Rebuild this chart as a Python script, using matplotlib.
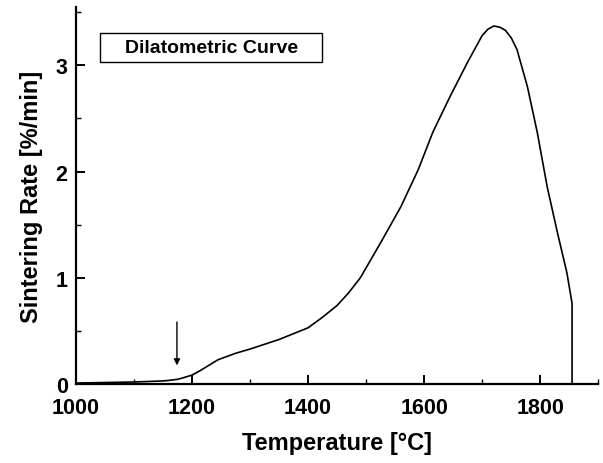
import matplotlib
matplotlib.use("Agg")
import matplotlib.pyplot as plt
from matplotlib.patches import Rectangle
from matplotlib.ticker import MultipleLocator

# sintering rate curve
temperature = [1000, 1050, 1100, 1150, 1160, 1175, 1185, 1200, 1215, 1230,
               1245, 1260, 1275, 1300, 1350, 1400, 1425, 1450, 1470, 1490,
               1525, 1560, 1590, 1615, 1645, 1675, 1700, 1710, 1720, 1730,
               1740, 1750, 1760, 1778, 1795, 1812, 1830, 1846, 1855, 1855]
rate = [0.01, 0.015, 0.02, 0.03, 0.035, 0.045, 0.06, 0.085, 0.13, 0.18,
        0.23, 0.26, 0.29, 0.33, 0.42, 0.53, 0.63, 0.74, 0.86, 1.0,
        1.33, 1.67, 2.02, 2.37, 2.71, 3.03, 3.28, 3.34, 3.37, 3.36,
        3.33, 3.26, 3.15, 2.80, 2.37, 1.86, 1.42, 1.05, 0.76, 0.0]

arrow_x = 1174
arrow_top = 0.61
arrow_tip = 0.15

plt.rcParams['font.family'] = ['Liberation Sans', 'DejaVu Sans']
plt.rcParams['font.weight'] = 'bold'

fig = plt.figure(figsize=(6.03, 4.64), dpi=100)
ax = fig.add_axes([0.126, 0.170, 0.866, 0.813])

ax.plot(temperature, rate, color='black', lw=1.2)

ax.annotate('', xy=(arrow_x, arrow_tip), xytext=(arrow_x, arrow_top),
            arrowprops=dict(arrowstyle='-|>', color='black', lw=1.0,
                            mutation_scale=9))

# "legend" box
ax.add_patch(Rectangle((0.046, 0.854), 0.425, 0.077, transform=ax.transAxes,
                       fill=False, ec='black', lw=1.0))
ax.text(0.259, 0.893, 'Dilatometric Curve', transform=ax.transAxes,
        ha='center', va='center', fontsize=14, fontweight='bold')

ax.set_xlim(1000, 1900)
ax.set_ylim(0, 3.55)
ax.xaxis.set_major_locator(MultipleLocator(200))
ax.xaxis.set_minor_locator(MultipleLocator(100))
ax.yaxis.set_major_locator(MultipleLocator(1))
ax.yaxis.set_minor_locator(MultipleLocator(0.5))

for s in ['top', 'right']:
    ax.spines[s].set_visible(False)
for s in ['left', 'bottom']:
    ax.spines[s].set_linewidth(1.6)

ax.tick_params(which='major', direction='in', length=6.5, width=1.4,
               labelsize=15.5)
ax.tick_params(which='minor', direction='in', length=3.5, width=1.0)
ax.tick_params(axis='x', which='major', pad=9)
ax.tick_params(axis='y', which='major', pad=6)
for lab in ax.get_xticklabels() + ax.get_yticklabels():
    lab.set_fontweight('bold')

ax.set_xlabel('Temperature [°C]', fontsize=17, fontweight='bold')
ax.set_ylabel('Sintering Rate [%/min]', fontsize=17, fontweight='bold')
ax.xaxis.set_label_coords(0.5, -0.125)
ax.yaxis.set_label_coords(-0.063, 0.5)

fig.savefig('out.png', dpi=100)
